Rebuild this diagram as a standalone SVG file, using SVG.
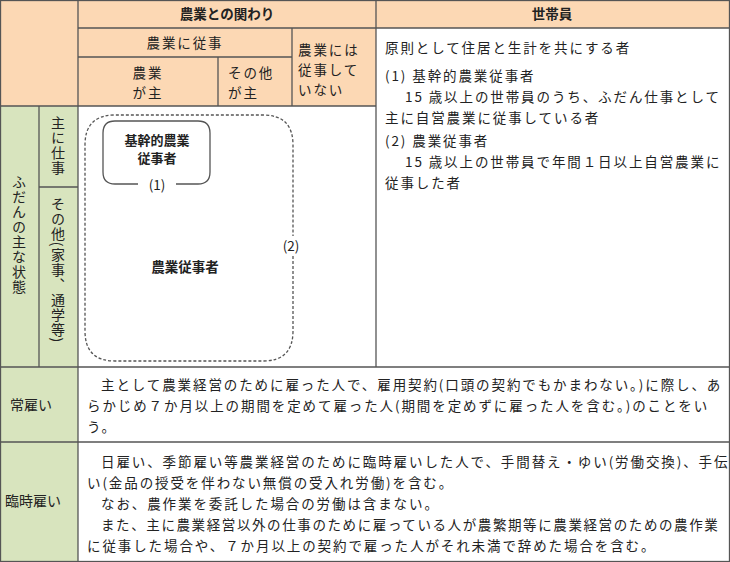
<svg xmlns="http://www.w3.org/2000/svg" width="730" height="562" viewBox="0 0 730 562">
<style>
text{font-family:"Noto Sans CJK JP",sans-serif;font-size:13.5px;fill:#222}
.t{letter-spacing:1.9px}
.b{font-weight:bold}
.c{text-anchor:middle}
.s{font-size:13px}
.v{writing-mode:vertical-rl;text-anchor:middle;font-size:14px;letter-spacing:1px}
.ln{stroke:#555;stroke-width:1.3;fill:none}
.or{fill:#FCD8B4}.gr{fill:#D8E4BE}
</style>
<rect width="730" height="562" fill="#fff"/>
<g id="cells">
<rect class="or" x="0" y="0" width="376" height="106"/>
<rect class="or" x="376" y="0" width="353" height="28"/>
<rect class="gr" x="0" y="106" width="78" height="455"/>
</g>
<g id="grid" class="ln">
<rect x="0.5" y="0.5" width="729" height="561"/>
<line x1="78" y1="0" x2="78" y2="561"/>
<line x1="376" y1="0" x2="376" y2="367"/>
<line x1="292" y1="28" x2="292" y2="106"/>
<line x1="218" y1="57" x2="218" y2="106"/>
<line x1="39" y1="106" x2="39" y2="367"/>
<line x1="78" y1="28" x2="729" y2="28"/>
<line x1="78" y1="57" x2="292" y2="57"/>
<line x1="0" y1="106" x2="376" y2="106"/>
<line x1="39" y1="187" x2="78" y2="187"/>
<line x1="0" y1="367" x2="729" y2="367"/>
<line x1="0" y1="442" x2="729" y2="442"/>
</g>
<g id="headers">
<text class="b c" x="227" y="19">農業との関わり</text>
<text class="b c" x="552" y="19">世帯員</text>
<text class="c t" x="185" y="48">農業に従事</text>
<text class="c t" x="148" y="78">農業</text>
<text class="c t" x="148" y="98">が主</text>
<text class="t" x="228" y="78">その他</text>
<text class="t" x="228" y="98">が主</text>
<text class="t" x="298" y="55">農業には</text>
<text class="t" x="298" y="75">従事して</text>
<text class="t" x="298" y="95">いない</text>
<text class="v" x="19" y="235">ふだんの主な状態</text>
<text class="v" x="58" y="146">主に仕事</text>
<text class="v" x="58" y="270">その他(家事、通学等)</text>
<text x="10" y="410" style="font-size:14px">常雇い</text>
<text x="5" y="506" style="font-size:14px">臨時雇い</text>
</g>
<g id="diagram">
<path class="ln" d="M293,256 V331 Q293,361 263,361 H115 Q85,361 85,331 V145 Q85,115 115,115 H263 Q293,115 293,145 V236" stroke-dasharray="3,2" stroke-width="1.1"/>
<path class="ln" d="M138,184 H115 Q103,184 103,172 V133 Q103,121 115,121 H198 Q210,121 210,133 V172 Q210,184 198,184 H176"/>
<text class="b c s" x="157" y="145">基幹的農業</text>
<text class="b c s" x="157" y="163">従事者</text>
<text class="c" x="157" y="190">(1)</text>
<text class="c" x="291" y="251">(2)</text>
<text class="b c" x="185" y="272">農業従事者</text>
</g>
<g id="desc" class="t">
<text x="385" y="53">原則として住居と生計を共にする者</text>
<text x="385" y="81">(1) 基幹的農業従事者</text>
<text x="405" y="102">15 歳以上の世帯員のうち、ふだん仕事として</text>
<text x="385" y="123">主に自営農業に従事している者</text>
<text x="385" y="146">(2) 農業従事者</text>
<text x="405" y="167">15 歳以上の世帯員で年間１日以上自営農業に</text>
<text x="385" y="188">従事した者</text>
<text x="101" y="390">主として農業経営のために雇った人で、雇用契約(口頭の契約でもかまわない。)に際し、あ</text>
<text x="87" y="411">らかじめ７か月以上の期間を定めて雇った人(期間を定めずに雇った人を含む。)のことをい</text>
<text x="87" y="432">う。</text>
<text x="101" y="467">日雇い、季節雇い等農業経営のために臨時雇いした人で、手間替え・ゆい(労働交換)、手伝</text>
<text x="87" y="488">い(金品の授受を伴わない無償の受入れ労働)を含む。</text>
<text x="101" y="509">なお、農作業を委託した場合の労働は含まない。</text>
<text x="101" y="530" style="letter-spacing:1.6px">また、主に農業経営以外の仕事のために雇っている人が農繁期等に農業経営のための農作業</text>
<text x="87" y="551">に従事した場合や、７か月以上の契約で雇った人がそれ未満で辞めた場合を含む。</text>
</g>
</svg>
